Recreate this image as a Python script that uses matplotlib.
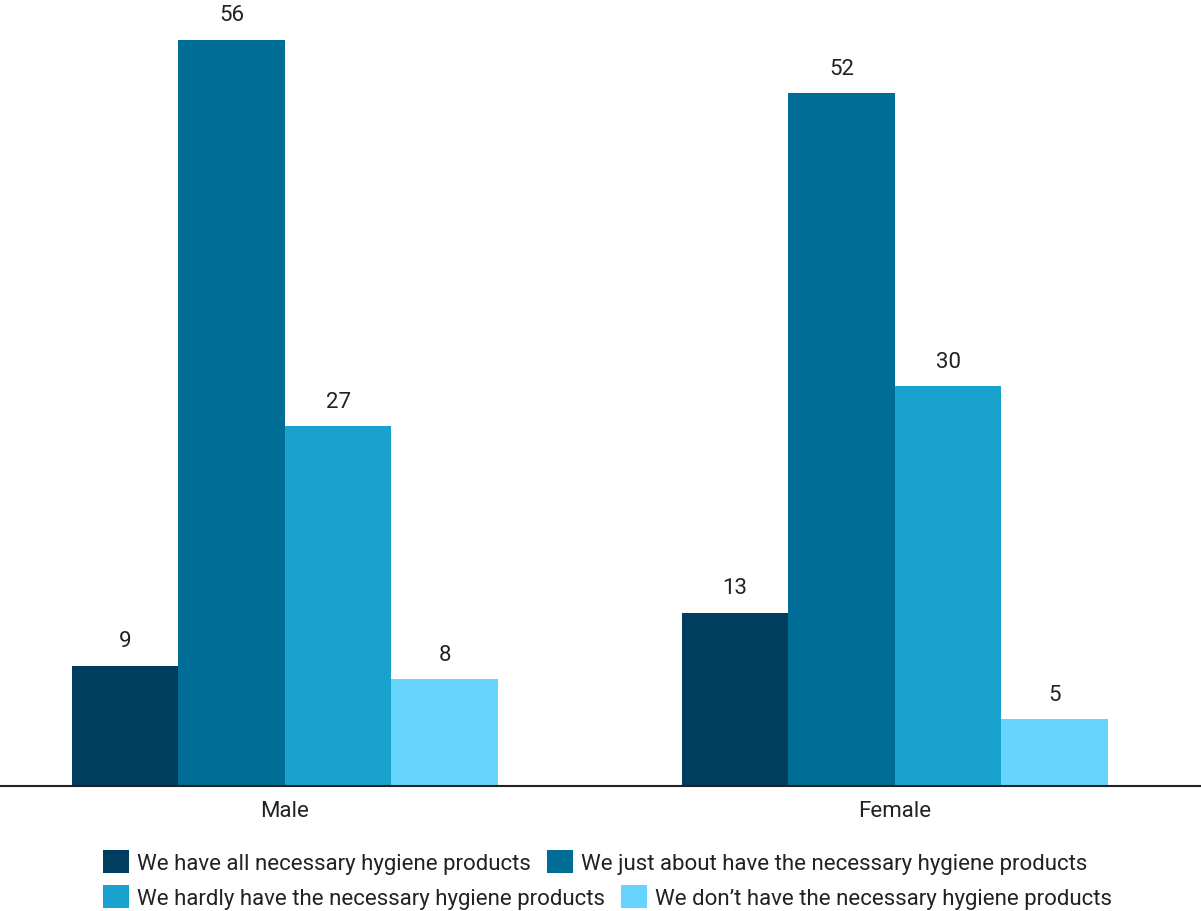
import matplotlib
matplotlib.use("Agg")
import matplotlib.pyplot as plt
import numpy as np

categories = ["Male", "Female"]
series_names = [
    "We have all necessary hygiene products",
    "We just about have the necessary hygiene products",
    "We hardly have the necessary hygiene products",
    "We don\u2019t have the necessary hygiene products",
]
values = [
    [9, 13],
    [56, 52],
    [27, 30],
    [8, 5],
]
colors = ["#003d5f", "#006d96", "#1aa2cf", "#66d4fd"]

plt.rcParams['font.family'] = ['Roboto', 'DejaVu Sans']

W, H = 1201, 912
fig = plt.figure(figsize=(W / 100, H / 100), dpi=100)
ax = fig.add_axes([0, (H - 787) / H, 1, 787 / H])

x = np.arange(len(categories))
bw = 0.1746
n = len(series_names)
handles = []
for i, (name, vals, c) in enumerate(zip(series_names, values, colors)):
    off = (i - (n - 1) / 2) * bw
    b = ax.bar(x + off, vals, bw, color=c, label=name, linewidth=0)
    handles.append(b)
    for xi, v in zip(x + off, vals):
        ax.text(xi, v + 1.1, str(v), ha="center", va="bottom", fontsize=16, color="#222222")

ax.set_xlim(-0.467, 1.502)
ax.set_ylim(0, 59.08)
ax.set_yticks([])
ax.set_xticks(x)
ax.set_xticklabels(categories, fontsize=16, color="#222222")
ax.tick_params(axis="x", length=0, pad=10)
for s in ["top", "right", "left"]:
    ax.spines[s].set_visible(False)
ax.spines["bottom"].set_color("#222222")
ax.spines["bottom"].set_linewidth(1.5)

legend_kw = dict(ncol=2, frameon=False, fontsize=16, handlelength=1.17, handleheight=1.17,
                 handletextpad=0.36, columnspacing=0.72, borderpad=0, borderaxespad=0,
                 labelcolor="#222222", loc="center left")
rows = [[0, 1], [2, 3]]
row_y = [863, 898]
for r, yy in zip(rows, row_y):
    leg = fig.legend(handles=[handles[k] for k in r], labels=[series_names[k] for k in r],
                     bbox_to_anchor=(103 / W, 1 - yy / H), **legend_kw)

fig.savefig("out.png", dpi=100)
